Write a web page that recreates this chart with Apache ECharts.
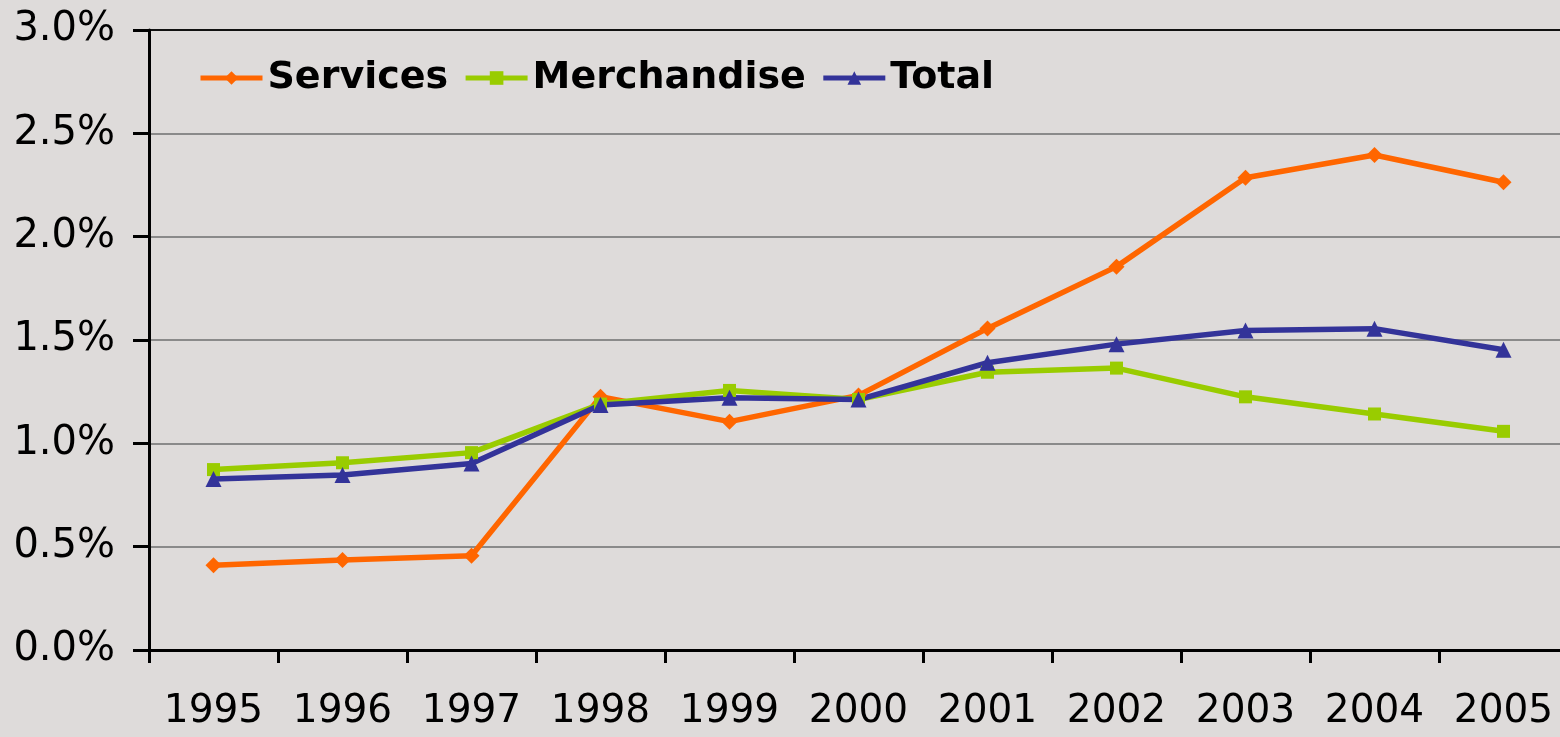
<!DOCTYPE html>
<html>
<head>
<meta charset="utf-8">
<script src="https://cdn.jsdelivr.net/npm/echarts@6/dist/echarts.min.js"></script>
<style>
  html, body { margin: 0; padding: 0; background: #dedbda; }
  #chart { width: 1560px; height: 737px; }
</style>
</head>
<body>
<div id="chart"></div>
<script>
  var years = ['1995', '1996', '1997', '1998', '1999', '2000', '2001', '2002', '2003', '2004', '2005'];
  var services = [0.41, 0.435, 0.456, 1.226, 1.105, 1.232, 1.556, 1.855, 2.285, 2.395, 2.263];
  var merchandise = [0.873, 0.906, 0.955, 1.19, 1.256, 1.212, 1.344, 1.364, 1.225, 1.142, 1.058];
  var total = [0.828, 0.847, 0.902, 1.185, 1.22, 1.212, 1.39, 1.48, 1.546, 1.555, 1.453];

  var font = 'DejaVu Sans';
  var myChart = echarts.init(document.getElementById('chart'));
  myChart.setOption({
    backgroundColor: '#dedbda',
    animation: false,
    legend: {
      left: 193,
      top: 54,
      itemWidth: 62,
      itemHeight: 17,
      itemGap: 15,
      lineStyle: { width: 5 },
      textStyle: {
        fontFamily: font,
        fontWeight: 'bold',
        fontSize: 38,
        color: '#000',
        padding: [0, 0, 0, 0]
      },
      data: ['Services', 'Merchandise', 'Total']
    },
    grid: {
      left: 149,
      top: 30,
      width: 1419,
      bottom: 87,
      outerBoundsMode: 'none',
      containLabel: false,
      show: true,
      borderColor: '#111',
      borderWidth: 1.5
    },
    xAxis: {
      type: 'category',
      data: years,
      boundaryGap: true,
      axisLine: { lineStyle: { color: '#000', width: 3 } },
      axisTick: { show: true, interval: 0, alignWithLabel: false, length: 13, lineStyle: { color: '#000', width: 3 } },
      axisLabel: {
        interval: 0,
        margin: 42,
        fontFamily: font,
        fontSize: 39,
        color: '#000'
      }
    },
    yAxis: {
      type: 'value',
      min: 0,
      max: 3,
      interval: 0.5,
      axisLine: { show: true, lineStyle: { color: '#000', width: 3 } },
      axisTick: { show: true, length: 16, lineStyle: { color: '#000', width: 3 } },
      axisLabel: {
        margin: 34,
        fontFamily: font,
        fontSize: 40,
        color: '#000',
        formatter: function (v) { return v.toFixed(1) + '%'; }
      },
      splitLine: {
        lineStyle: {
          color: ['#8a8a8a', '#8a8a8a', '#8a8a8a', '#8a8a8a', '#8a8a8a', '#8a8a8a', '#111'],
          width: 2
        }
      }
    },
    series: [
      {
        name: 'Services',
        type: 'line',
        data: services,
        color: '#ff6600',
        symbol: 'diamond',
        symbolSize: 16,
        lineStyle: { width: 5.5 }
      },
      {
        name: 'Merchandise',
        type: 'line',
        data: merchandise,
        color: '#99cc00',
        symbol: 'rect',
        symbolSize: 13,
        lineStyle: { width: 5.5 }
      },
      {
        name: 'Total',
        type: 'line',
        data: total,
        color: '#333399',
        symbol: 'triangle',
        symbolSize: 16,
        lineStyle: { width: 5.5 }
      }
    ]
  });
</script>
</body>
</html>
